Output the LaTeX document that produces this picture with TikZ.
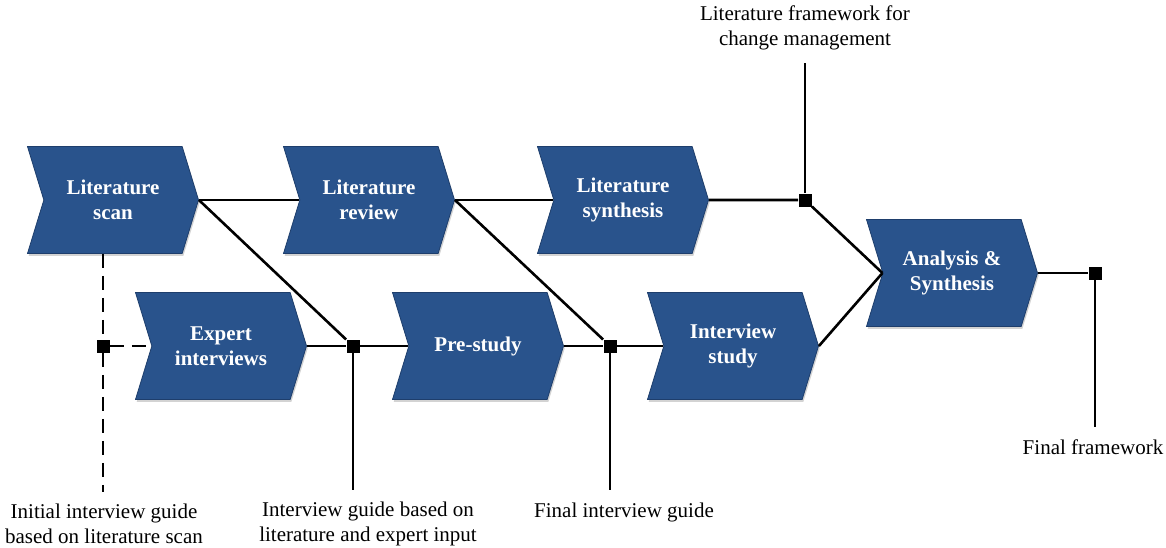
\documentclass[tikz,border=0pt]{standalone}
\usepackage{fontspec}
\setmainfont{Liberation Serif}
\usetikzlibrary{shapes.symbols,shadows,positioning}
\definecolor{StepBlue}{RGB}{41,83,140}
\definecolor{StepEdge}{RGB}{30,62,108}

\begin{document}
\begin{tikzpicture}[
  x=0.5pt, y=-0.5pt,
  phase/.style={signal, signal from=west, signal to=east, signal pointer angle=146,
    draw=StepEdge, line width=0.4pt, fill=StepBlue, text=white,
    font=\fontsize{10.5}{12.5}\selectfont\bfseries, align=center,
    minimum width=85.5pt, minimum height=53.5pt, inner sep=0pt,
    drop shadow={shadow xshift=0.6pt, shadow yshift=-1.2pt, opacity=0.35}},
  junction/.style={rectangle, fill=black, minimum size=6.5pt, inner sep=0pt},
  outcome/.style={font=\fontsize{10.5}{12.5}\selectfont, align=center, inner xsep=0pt, inner ysep=6pt},
  flow/.style={line width=1.3pt},
  prep/.style={line width=1.3pt, dash pattern=on 7pt off 4pt}
]
\useasboundingbox (0,0) rectangle (1166,547);

% Upper row
\node[phase] (scan) at (113,200) {Literature\\scan};
\node[phase] (review) at (369,200) {Literature\\review};
\node[phase] (synth) at (623,200) {Literature\\synthesis};

% Lower row
\node[phase] (expert) at (221,346) {Expert\\interviews};
\node[phase] (prestudy) at (478,346) {Pre-study};
\node[phase] (study) at (733,346) {Interview\\study};

% Final step
\node[phase] (analysis) at (952,273) {Analysis \&\\Synthesis};

% Junctions
\node[junction] (j0) at (103,346) {};
\node[junction] (j1) at (805,200) {};
\node[junction] (j2) at (353,346) {};
\node[junction] (j3) at (610,346) {};
\node[junction] (j4) at (1095,273) {};

% Outcomes
\node[outcome] (lfw) at (805,28) {Literature framework for\\change management};
\node[outcome] (iig) at (104,524) {Initial interview guide\\based on literature scan};
\node[outcome] (ig) at (368,524) {Interview guide based on\\literature and expert input};
\node[outcome] (fig) at (624,512) {Final interview guide};
\node[outcome] (ff) at (1093,447) {Final framework};

% Literature track
\draw[flow] (scan.east) -- (review.west);
\draw[flow] (review.east) -- (synth.west);
\draw[flow] (synth.east) -- (j1) -- (analysis.west);
\draw[flow] (j1) -- (lfw);

% Empirical track
\draw[flow] (scan.east) -- (j2);
\draw[flow] (expert.east) -- (j2) -- (prestudy.west);
\draw[flow] (j2) -- (j2 |- ig.north);
\draw[flow] (review.east) -- (j3);
\draw[flow] (prestudy.east) -- (j3) -- (study.west);
\draw[flow] (j3) -- (j3 |- fig.north);
\draw[flow] (study.east) -- (analysis.west);
\draw[flow] (analysis.east) -- (j4) -- (j4 |- ff.north);

% Initial guide
\draw[prep] (j0 |- scan.south) -- (j0) -- (j0 |- iig.north);
\draw[prep] (j0) -- (expert.west);

\end{tikzpicture}
\end{document}
